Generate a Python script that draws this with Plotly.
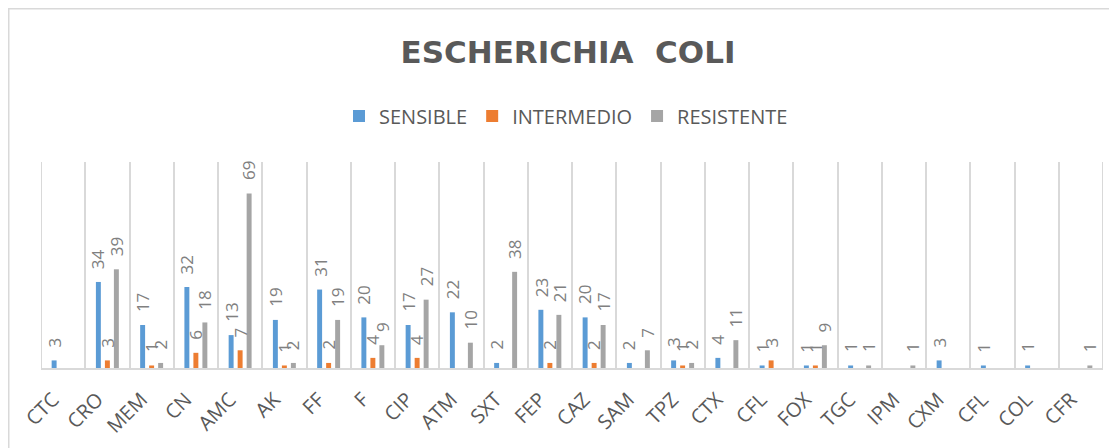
import plotly.graph_objects as go

categories = ["CTC", "CRO", "MEM", "CN", "AMC", "AK", "FF", "F", "CIP", "ATM", "SXT", "FEP",
              "CAZ", "SAM", "TPZ", "CTX", "CFL", "FOX", "TGC", "IPM", "CXM", "CFL", "COL", "CFR"]
sensible = [3, 34, 17, 32, 13, 19, 31, 20, 17, 22, 2, 23, 20, 2, 3, 4, 1, 1, 1, None, 3, 1, 1, None]
intermedio = [None, 3, 1, 6, 7, 1, 2, 4, 4, None, None, 2, 2, None, 1, None, 3, 1, None, None, None, None, None, None]
resistente = [None, 39, 2, 18, 69, 2, 19, 9, 27, 10, 38, 21, 17, 7, 2, 11, None, 9, 1, 1, None, None, None, 1]

series = [("SENSIBLE", sensible, "#5b9bd5"),
          ("INTERMEDIO", intermedio, "#ed7d31"),
          ("RESISTENTE", resistente, "#a5a5a5")]

# page has an 8px body margin; layout values below are in figure coordinates
W, H = 1117, 448
OFF = 8
PL, PR, PT, PB = 41 - OFF, 1103 - OFF, 162 - OFF, 368 - OFF
PW, PH = PR - PL, PB - PT
BARGAP, GROUPGAP = 0.39, 0.45

n = len(categories)
xpos = list(range(n))
fig = go.Figure()
slot = PW / n * (1 - BARGAP) / len(series)
for k, (name, vals, col) in enumerate(series):
    fig.add_trace(go.Bar(
        x=xpos, y=vals, name=name, marker=dict(color=col, line=dict(width=0)),
        hoverinfo="x+y+name"))
    for i, v in enumerate(vals):
        if v is None:
            continue
        fig.add_annotation(x=i, y=v, xref="x", yref="y", text=str(v), showarrow=False,
                           textangle=-90, xanchor="center", yanchor="bottom",
                           xshift=(k - 1) * slot, yshift=11,
                           font=dict(family="Open Sans", size=17, color="#808080"))

fig.update_layout(
    width=W, height=H,
    margin=dict(l=PL, r=W - PR, t=PT, b=H - PB, autoexpand=False),
    paper_bgcolor="white", plot_bgcolor="white",
    barmode="group", bargap=BARGAP, bargroupgap=GROUPGAP,
    title=dict(text="<b>ESCHERICHIA  COLI</b>", xref="container", x=(568 - OFF) / W, xanchor="center",
               yref="container", y=1 - (52 - OFF) / H, yanchor="middle",
               font=dict(family="DejaVu Sans", size=31, color="#595959")),
    legend=dict(orientation="h", x=(566 - 41) / 1062, xanchor="center", y=(368 - 116) / 206, yanchor="middle",
                font=dict(family="Open Sans", size=20, color="#595959"),
                bgcolor="rgba(0,0,0,0)", itemclick=False),
    showlegend=True,
)
fig.update_xaxes(
    range=[-0.5, n - 0.5], automargin=False,
    tickmode="array", tickvals=xpos, ticktext=categories, tickangle=-45,
    tickfont=dict(family="Open Sans", size=20, color="#595959"),
    ticks="", ticklabelstandoff=10, ticklabelshift=-10,
    showgrid=False, zeroline=False,
    showline=True, linecolor="#d9d9d9", linewidth=2,
    minor=dict(tickmode="array", tickvals=[i - 0.5 for i in range(n + 1)],
               showgrid=True, gridcolor="#d9d9d9", gridwidth=2, ticks=""),
)
fig.update_yaxes(range=[0, 81.4], visible=False, showgrid=False, zeroline=False, automargin=False)

for xe in (-0.5, n - 0.5):
    fig.add_shape(type="line", xref="x", yref="paper", x0=xe, x1=xe, y0=0, y1=1,
                  line=dict(color="#d9d9d9", width=2), layer="below")

# outer chart border (top and left edges visible)
fig.add_shape(type="rect", xref="paper", yref="paper",
              x0=(0 - PL) / PW, x1=1.1, y0=-0.6, y1=PB / PH,
              line=dict(color="#d9d9d9", width=3), fillcolor="rgba(0,0,0,0)", layer="below")

fig.write_html("out.html")
